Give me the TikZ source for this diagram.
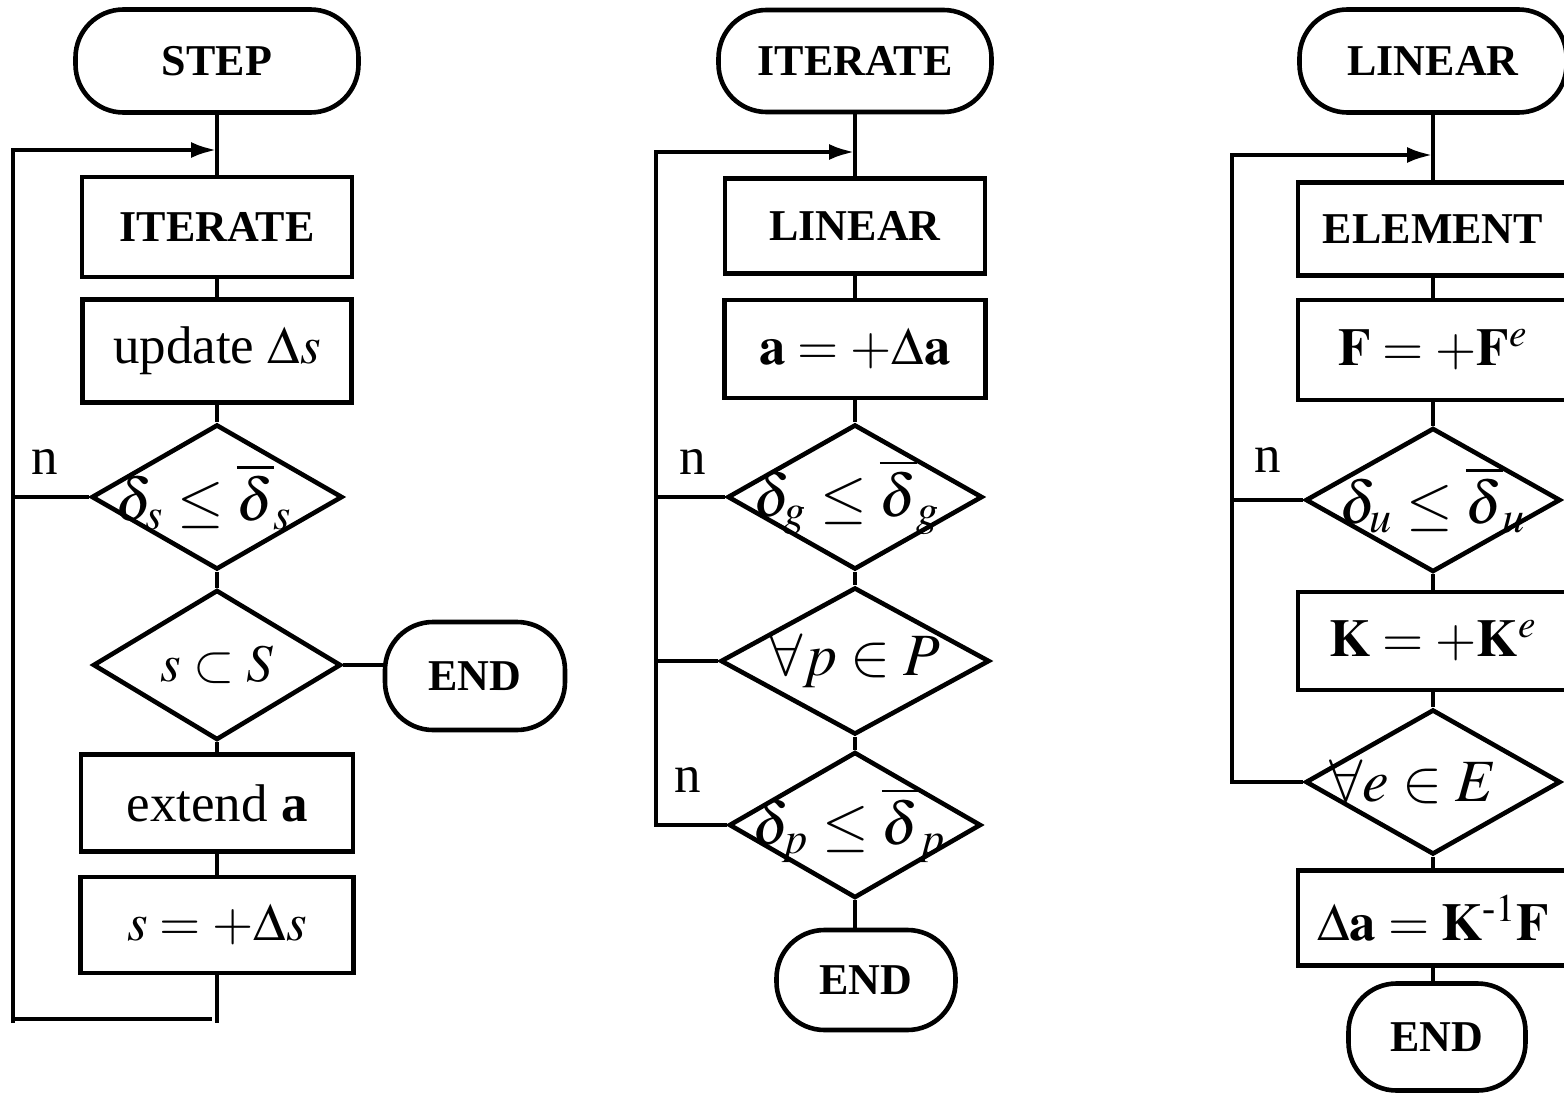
\documentclass[tikz,border=0pt]{standalone}
\usepackage{amsmath}
\usepackage{mathptmx}
\usepackage[no-math]{fontspec}
\setmainfont{Liberation Serif}
\usetikzlibrary{shapes.geometric}
\usetikzlibrary{arrows.meta}

% text of a decision, centred on the diamond; optional pull to the left
\newcommand{\condtxt}[2][0pt]{\makebox[0pt]{$#2$\hspace{#1}}}

\tikzset{
  flow/.style={line width=2.3pt},
  term/.style={draw, line width=2.3pt, rounded corners=24pt, inner sep=0pt,
    font=\fontsize{22}{24}\selectfont\bfseries},
  proc/.style={draw, line width=2.3pt, inner sep=0pt,
    font=\fontsize{26.5}{30}\selectfont},
  bproc/.style={proc, font=\fontsize{22}{24}\selectfont\bfseries},
  decide/.style={draw, diamond, line width=2.3pt, inner sep=0pt,
    font=\fontsize{30}{34}\selectfont},
  lbl/.style={inner sep=0pt, font=\fontsize{26.5}{30}\selectfont},
  back/.style={flow, -{Latex[length=13pt,width=8pt]}}
}

\begin{document}
\begin{tikzpicture}[x=0.5pt, y=-0.5pt]
  \useasboundingbox (0,0) rectangle (1564,1097);
  \clip (0,0) rectangle (1564,1097);

  % STEP
  \node[term, minimum width=141.5pt, minimum height=51.5pt] (step) at (217,61) {STEP};
  \node[bproc, minimum width=135pt, minimum height=50pt] (iter1) at (217,227) {ITERATE};
  \node[proc, minimum width=134.5pt, minimum height=51.5pt] (upd1) at (217,351) {update $\Delta s$};
  \node[decide, minimum width=125.5pt, minimum height=72.5pt] (dec1) at (217,497) {\condtxt[13pt]{{\delta}_s \leq \overline{\delta}_s}};
  \node[decide, minimum width=124pt, minimum height=75pt, font=\fontsize{26.5}{30}\selectfont] (dec2) at (217,665) {\condtxt{s \subset S}};
  \node[term, minimum width=90pt, minimum height=54pt] (end1) at (475,676) {END};
  \node[proc, minimum width=136pt, minimum height=48.5pt] (ext1) at (217,803) {extend \textbf{a}};
  \node[proc, minimum width=136.5pt, minimum height=48pt] (sinc1) at (217,925) {$s = +\Delta s$};
  \node[lbl] (n1) at (45,462) {n};

  \coordinate (ret1) at (13,150);
  \coordinate (low1) at (13,1023);
  \coordinate (bl1) at (13,1019);
  \coordinate (br1) at (212,1019);

  \draw[flow] (step) -- (iter1) -- (upd1) -- (dec1) -- (dec2) -- (ext1) -- (sinc1);
  \draw[flow] (dec2.east) -- (dec2.east -| end1.west);
  \draw[flow] (sinc1) -- (sinc1.south |- low1);
  \draw[back] (low1) -- (ret1) -- (step.south |- ret1);
  \draw[flow] (dec1.west) -- (dec1.west -| ret1);
  \draw[flow] (bl1) -- (br1);

  % ITERATE
  \node[term, minimum width=136.5pt, minimum height=51pt] (it2) at (855,61) {ITERATE};
  \node[bproc, minimum width=130pt, minimum height=47.5pt] (lin2) at (855,226) {LINEAR};
  \node[proc, minimum width=130.5pt, minimum height=49pt] (abox) at (855,349) {$\mathbf{a} = +\Delta\mathbf{a}$};
  \node[decide, minimum width=127.5pt, minimum height=72.5pt] (dec3) at (855,497) {\condtxt[8pt]{{\delta}_g \leq \overline{\delta}_g}};
  \node[decide, minimum width=134.5pt, minimum height=73.5pt] (dec4) at (855,661) {\condtxt{\forall p \in P}};
  \node[decide, minimum width=126pt, minimum height=73pt] (dec5) at (855,825) {\condtxt[6pt]{{\delta}_p \leq \overline{\delta}_p}};
  \node[term, minimum width=89.5pt, minimum height=50pt] (end2) at (866,980) {END};
  \node[lbl] (n2) at (693,462) {n};
  \node[lbl] (n3) at (688,780) {n};

  \coordinate (ret2) at (656,152);

  \draw[flow] (it2) -- (lin2) -- (abox) -- (dec3) -- (dec4) -- (dec5);
  \draw[flow] (dec5.south) -- (dec5.south |- end2.north);
  \draw[back] (dec5.west) -| (ret2) -- (it2.south |- ret2);
  \draw[flow] (dec3.west) -- (dec3.west -| ret2);
  \draw[flow] (dec4.west) -- (dec4.west -| ret2);

  % LINEAR
  \node[term, minimum width=133.5pt, minimum height=51.5pt] (lin3) at (1433,61) {LINEAR};
  \node[bproc, minimum width=135pt, minimum height=46.5pt] (elem) at (1433,229) {ELEMENT};
  \node[proc, minimum width=135pt, minimum height=50pt] (fbox) at (1433,350) {$\mathbf{F} = +\mathbf{F}^e$};
  \node[decide, minimum width=127.5pt, minimum height=72pt] (dec6) at (1433,500) {\condtxt{{\delta}_u \leq \overline{\delta}_u}};
  \node[proc, minimum width=135pt, minimum height=49pt] (kbox) at (1433,641) {$\mathbf{K} = +\mathbf{K}^e$};
  \node[decide, minimum width=127.5pt, minimum height=72.5pt] (dec7) at (1433,782) {\condtxt[20pt]{\forall e \in E}};
  \node[proc, minimum width=135pt, minimum height=47.5pt] (dabox) at (1433,918) {$\Delta\mathbf{a} = \mathbf{K}^{\text{-}1}\mathbf{F}$};
  \node[term, minimum width=88.5pt, minimum height=53.5pt] (end3) at (1437,1037) {END};
  \node[lbl] (n4) at (1268,460) {n};

  \coordinate (ret3) at (1232,155);

  \draw[flow] (lin3) -- (elem) -- (fbox) -- (dec6) -- (kbox) -- (dec7) -- (dabox);
  \draw[flow] (dabox.south) -- (dabox.south |- end3.north);
  \draw[back] (dec7.west) -| (ret3) -- (lin3.south |- ret3);
  \draw[flow] (dec6.west) -- (dec6.west -| ret3);
\end{tikzpicture}
\end{document}
